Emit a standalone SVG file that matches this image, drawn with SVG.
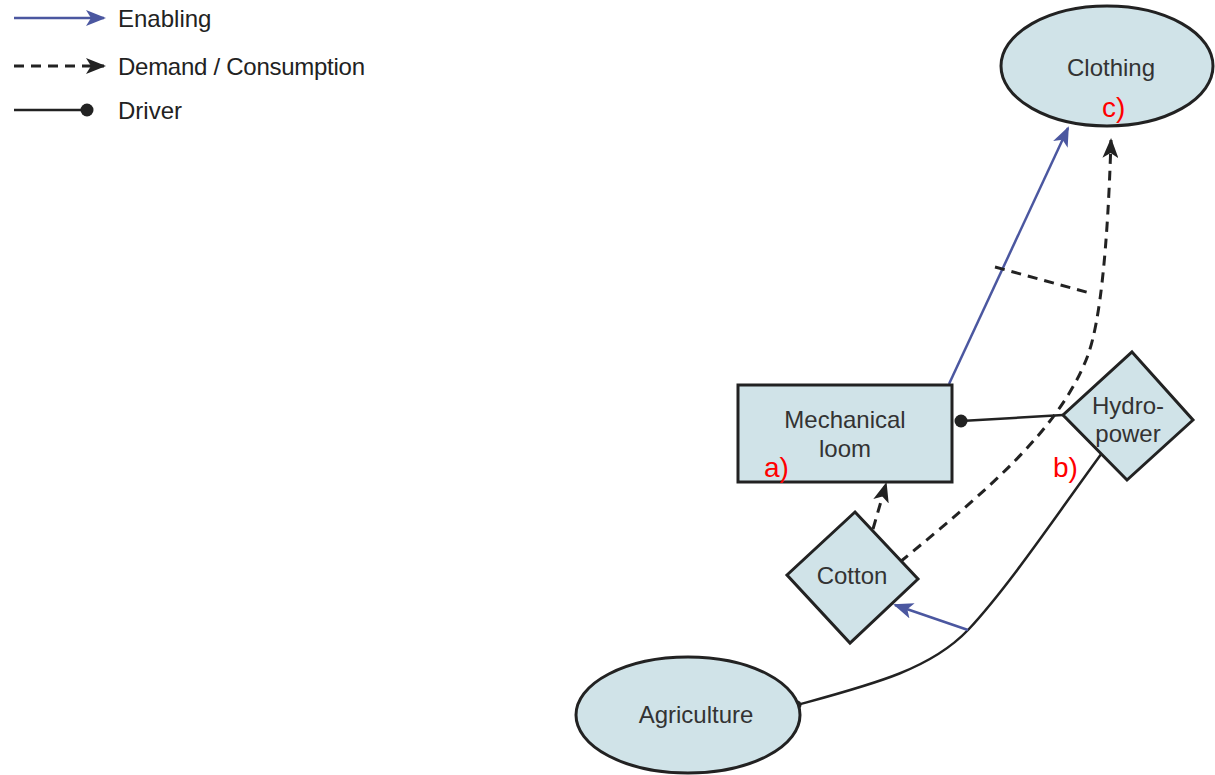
<svg xmlns="http://www.w3.org/2000/svg" width="1215" height="775" viewBox="0 0 1215 775">
<defs>
<style>
.node{fill:#d0e3e8;stroke:#222;stroke-width:3}
.lbl{font-family:"Liberation Sans",Arial,sans-serif;font-size:24px;fill:#333;text-anchor:middle}
.leg{font-family:"Liberation Sans",Arial,sans-serif;font-size:24px;fill:#222}
.red{font-family:"Liberation Sans",Arial,sans-serif;font-size:28px;fill:#f00}
.en{fill:none;stroke:#4b57a0;stroke-width:2.5}
.dm{fill:none;stroke:#222;stroke-width:3;stroke-dasharray:10 7}
.dr{fill:none;stroke:#222;stroke-width:2.5}
</style>
<marker id="ab" viewBox="0 0 20 16" refX="18" refY="8" markerWidth="20" markerHeight="16" markerUnits="userSpaceOnUse" orient="auto">
<path d="M0,0 L20,8 L0,16 L5,8 Z" fill="#4b57a0"/>
</marker>
<marker id="ak" viewBox="0 0 20 16" refX="18" refY="8" markerWidth="20" markerHeight="16" markerUnits="userSpaceOnUse" orient="auto">
<path d="M0,0 L20,8 L0,16 L5,8 Z" fill="#222"/>
</marker>
<marker id="dot" viewBox="0 0 14 14" refX="7" refY="7" markerWidth="14" markerHeight="14" markerUnits="userSpaceOnUse">
<circle cx="7" cy="7" r="6.5" fill="#222"/>
</marker>
<marker id="dots" viewBox="0 0 10 10" refX="5" refY="5" markerWidth="10" markerHeight="10" markerUnits="userSpaceOnUse">
<circle cx="5" cy="5" r="4.5" fill="#222"/>
</marker>
</defs>
<rect width="1215" height="775" fill="#fff"/>
<g id="legend">
<line x1="14" y1="18" x2="104" y2="18" class="en" marker-end="url(#ab)"/>
<text x="118" y="27" class="leg">Enabling</text>
<line x1="14" y1="66" x2="104" y2="66" class="dm" stroke-dasharray="3 7 12 7 12 7" marker-end="url(#ak)"/>
<text x="118" y="75" class="leg" textLength="247">Demand / Consumption</text>
<line x1="14" y1="110" x2="87" y2="110" class="dr" marker-end="url(#dot)"/>
<text x="118" y="119" class="leg">Driver</text>
</g>
<g id="connectors">
<line x1="949" y1="384" x2="1068" y2="128" class="en" marker-end="url(#ab)"/>
<line x1="873" y1="529" x2="886" y2="484" class="dm" marker-end="url(#ak)"/>
<path d="M900,562 C985,492 1060,430 1088,355 Q1106,305 1111,140" class="dm" marker-end="url(#ak)"/>
<line x1="995" y1="267" x2="1090" y2="293" class="dm"/>
<line x1="1063" y1="415" x2="961" y2="421" class="dr" marker-end="url(#dot)"/>
<path d="M1102,453 C1060,510 1010,585 968,630 C930,670 870,685 797,705" class="dr" marker-end="url(#dots)"/>
<line x1="968" y1="630" x2="895" y2="605" class="en" marker-end="url(#ab)"/>
</g>
<g id="clothing">
<ellipse cx="1107" cy="66" rx="106" ry="60" class="node"/>
<text x="1111" y="76" class="lbl">Clothing</text>
</g>
<g id="loom">
<rect x="738" y="385" width="214" height="97" class="node"/>
<text x="845" y="428" class="lbl">Mechanical</text>
<text x="845" y="457" class="lbl">loom</text>
</g>
<g id="cotton">
<polygon points="855,512 918,579 850,643 787,575" class="node"/>
<text x="852" y="584" class="lbl">Cotton</text>
</g>
<g id="hydropower">
<polygon points="1132,352 1193,420 1127,480 1063,415" class="node"/>
<text x="1128" y="414" class="lbl">Hydro-</text>
<text x="1128" y="442" class="lbl">power</text>
</g>
<g id="agriculture">
<ellipse cx="688" cy="715" rx="112" ry="58" class="node"/>
<text x="696" y="723" class="lbl">Agriculture</text>
</g>
<g id="annotations">
<text x="764" y="477" class="red">a)</text>
<text x="1053" y="477" class="red">b)</text>
<text x="1102" y="117" class="red">c)</text>
</g>
</svg>
